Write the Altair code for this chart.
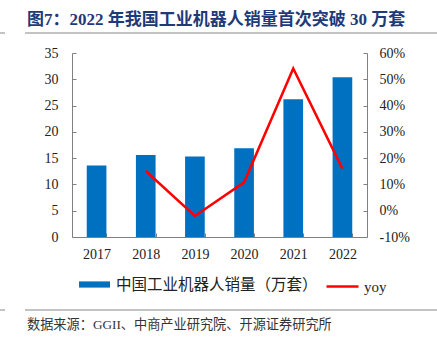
import altair as alt
import pandas as pd

years = ["2017", "2018", "2019", "2020", "2021", "2022"]
sales = [13.6, 15.6, 15.3, 16.9, 26.2, 30.4]
yoy = [None, 15.1, -2.0, 10.8, 54.1, 16.0]

bar_name = "中国工业机器人销量（万套）"
line_name = "yoy"
title_text = "图7：2022 年我国工业机器人销量首次突破 30 万套"
source_text = "数据来源：GGII、中商产业研究院、开源证券研究所"

df = pd.DataFrame({"year": years, "sales": sales, "yoy": yoy,
                   "s1": [bar_name] * 6, "s2": [line_name] * 6})

W, H = 295, 184
SERIF = "Liberation Serif, Noto Sans CJK SC"
BLUE = "#0070C0"
RED = "#FF0000"
INWARD = {"expr": "-4"}

x = alt.X("year:N", title=None,
          scale=alt.Scale(paddingInner=0.6, paddingOuter=0.3),
          axis=alt.Axis(labelAngle=0, tickBand="extent", labelPadding=14,
                        tickSize=INWARD, domainColor="#808080", tickColor="#808080",
                        labelFont=SERIF, labelFontSize=14, labelColor="#222"))

bars = alt.Chart(df).mark_bar(color=BLUE).encode(
    x=x,
    y=alt.Y("sales:Q", title=None,
            scale=alt.Scale(domain=[0, 35], nice=False),
            axis=alt.Axis(values=list(range(0, 36, 5)), grid=False, tickSize=INWARD,
                          labelPadding=18, domainColor="#808080", tickColor="#808080",
                          labelFont=SERIF, labelFontSize=14, labelColor="#222")),
    fill=alt.Fill("s1:N", scale=alt.Scale(domain=[bar_name], range=[BLUE]),
                  legend=alt.Legend(title=None, orient="none", legendX=7, legendY=216,
                                    symbolType="M-1,-0.2H1V0.2H-1Z", symbolSize=961,
                                    symbolStrokeWidth=0, labelLimit=400,
                                    labelFont="Noto Sans CJK SC", labelFontSize=15.5,
                                    labelColor="#222", labelOffset=6)),
)

line = alt.Chart(df).transform_filter("isValid(datum.yoy)").mark_line(
    color=RED, strokeWidth=2.5).encode(
    x=x,
    y=alt.Y("yoy:Q", title=None,
            scale=alt.Scale(domain=[-10, 60], nice=False),
            axis=alt.Axis(orient="right", values=list(range(-10, 61, 10)), grid=False,
                          tickSize=INWARD, labelPadding=16, labelExpr="datum.value + '%'",
                          domainColor="#808080", tickColor="#808080",
                          labelFont=SERIF, labelFontSize=14, labelColor="#222")),
    stroke=alt.Stroke("s2:N", scale=alt.Scale(domain=[line_name], range=[RED]),
                      legend=alt.Legend(title=None, orient="none", legendX=253, legendY=216,
                                        symbolType="stroke", symbolSize=1024,
                                        symbolStrokeWidth=2.5,
                                        labelFont=SERIF, labelFontSize=15,
                                        labelColor="#222", labelOffset=4)),
)

tdf = pd.DataFrame({"t": [title_text]})
title = alt.Chart(tdf).mark_text(align="left", baseline="middle", fontSize=17,
                                 fontWeight="bold", color="#1F3A78",
                                 font="Liberation Serif, Noto Sans CJK SC").encode(
    text="t:N", x=alt.value(-45), y=alt.value(-33))

sdf = pd.DataFrame({"t": [source_text]})
source = alt.Chart(sdf).mark_text(align="left", baseline="middle", fontSize=13.2,
                                  color="#333", font="Liberation Serif, Noto Sans CJK SC").encode(
    text="t:N", x=alt.value(-45), y=alt.value(272))

rules = []
for yy in (-20, 257):
    for a, b in ((-72, -67), (-47, 365)):
        rules.append(alt.Chart(tdf).mark_rule(color="#888", strokeWidth=1).encode(
            x=alt.value(a), x2=alt.value(b), y=alt.value(yy)))

chart = alt.layer(bars, line, title, source, *rules).resolve_scale(
    y="independent", fill="independent", stroke="independent").properties(
    width=W, height=H,
    padding={"left": 72, "top": 53, "right": 70, "bottom": 109},
    autosize=alt.AutoSizeParams(type="none"),
).configure_view(stroke=None).configure_axis(labelFont=SERIF)

chart.save("out.html", embed_options={"renderer": "svg", "actions": False})
